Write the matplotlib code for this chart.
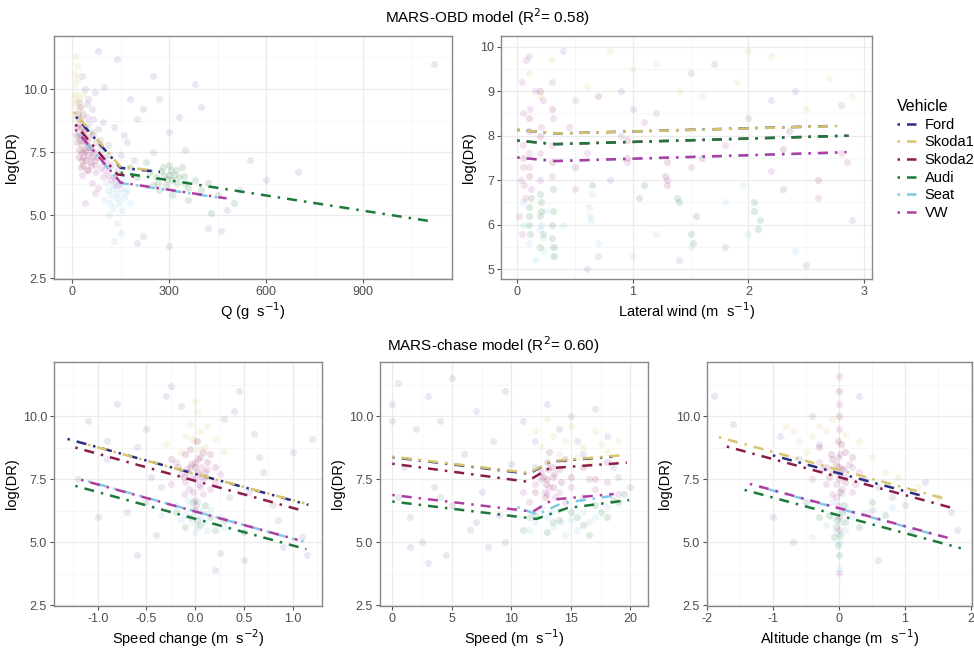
import matplotlib
matplotlib.use("Agg")
import matplotlib.pyplot as plt
from matplotlib.lines import Line2D

plt.rcParams["font.family"] = ["Liberation Sans", "DejaVu Sans"]

VEHICLES = ["Ford", "Skoda1", "Skoda2", "Audi", "Seat", "VW"]
COLORS = {
    "Ford": "#2b2c86",
    "Skoda1": "#d8c46c",
    "Skoda2": "#8a1c4c",
    "Audi": "#1b7a3a",
    "Seat": "#82c8e6",
    "VW": "#b03ea2",
}
CODE = {"F": "Ford", "Y": "Skoda1", "M": "Skoda2", "A": "Audi", "S": "Seat", "V": "VW"}

# ---- fitted MARS lines (x breakpoints, y values) per vehicle ----
Q_LINE_X = {
    "Ford": [12, 150, 272],
    "Skoda1": [5, 150, 250],
    "Skoda2": [10, 140, 200],
    "Audi": [150, 1117],
    "Seat": [20, 150, 470],
    "VW": [10, 150, 478],
}
Q_LINE_Y = {
    "Ford": [8.9, 6.88, 6.72],
    "Skoda1": [9.1, 6.92, 6.78],
    "Skoda2": [8.6, 6.62, 6.52],
    "Audi": [6.69, 4.75],
    "Seat": [8.2, 6.28, 5.67],
    "VW": [8.4, 6.3, 5.67],
}

WIND_LINE_X = {
    "Ford": [0, 0.35, 2.75],
    "Skoda1": [0, 0.35, 2.82],
    "Skoda2": [0, 0.33, 2.85],
    "Audi": [0, 0.33, 2.87],
    "Seat": [0, 0.33, 2.83],
    "VW": [0, 0.33, 2.85],
}
WIND_LINE_Y = {
    "Ford": [8.13, 8.05, 8.22],
    "Skoda1": [8.13, 8.05, 8.22],
    "Skoda2": [7.89, 7.81, 8.0],
    "Audi": [7.89, 7.81, 8.0],
    "Seat": [7.51, 7.43, 7.62],
    "VW": [7.51, 7.43, 7.63],
}

ACC_LINE_X = {
    "Ford": [-1.31, 1.16],
    "Skoda1": [-1.1, 1.12],
    "Skoda2": [-1.23, 1.11],
    "Audi": [-1.23, 1.14],
    "Seat": [-1.1, 1.11],
    "VW": [-1.17, 1.05],
}
ACC_LINE_Y = {
    "Ford": [9.1, 6.49],
    "Skoda1": [8.87, 6.55],
    "Skoda2": [8.76, 6.25],
    "Audi": [7.24, 4.73],
    "Seat": [7.42, 5.03],
    "VW": [7.48, 5.1],
}

SPEED_LINE_X = {
    "Ford": [0, 11.5, 13.3, 18.5],
    "Skoda1": [0, 11.5, 13.3, 19.7],
    "Skoda2": [0, 11.3, 13.2, 19.7],
    "Audi": [0, 12.1, 14.7, 19.9],
    "Seat": [10.5, 12.2, 14.2, 18.6],
    "VW": [0, 11.8, 13.5, 18.6],
}
SPEED_LINE_Y = {
    "Ford": [8.38, 7.72, 8.2, 8.4],
    "Skoda1": [8.4, 7.75, 8.22, 8.47],
    "Skoda2": [8.12, 7.41, 7.94, 8.16],
    "Audi": [6.62, 5.93, 6.36, 6.68],
    "Seat": [6.4, 6.1, 6.55, 6.85],
    "VW": [6.88, 6.22, 6.7, 6.92],
}

ALT_LINE_X = {
    "Ford": [-1.0, 1.3],
    "Skoda1": [-1.82, 1.67],
    "Skoda2": [-1.70, 1.77],
    "Audi": [-1.43, 1.85],
    "Seat": [-1.2, 1.65],
    "VW": [-1.35, 1.67],
}
ALT_LINE_Y = {
    "Ford": [8.45, 6.82],
    "Skoda1": [9.17, 6.69],
    "Skoda2": [8.8, 6.33],
    "Audi": [7.08, 4.77],
    "Seat": [7.2, 5.17],
    "VW": [7.32, 5.17],
}

# ---- scatter points: (vehicle code, x, y) ----
Q_PTS = [
    ("Y", 8, 10.6), ("Y", 10, 10.2), ("Y", 12, 9.8), ("Y", 15, 9.5), ("Y", 18, 9.2), ("Y", 10, 9.0),
    ("Y", 20, 8.8), ("Y", 25, 9.6), ("Y", 6, 9.4), ("Y", 30, 9.0), ("Y", 14, 10.9), ("Y", 22, 8.4),
    ("Y", 5, 8.8), ("Y", 9, 9.7), ("Y", 16, 10.4), ("Y", 28, 9.3), ("Y", 12, 11.3), ("Y", 35, 9.8),
    ("M", 15, 8.5), ("M", 20, 8.2), ("M", 25, 8.0), ("M", 30, 7.8), ("M", 35, 8.3), ("M", 40, 7.6),
    ("M", 45, 7.9), ("M", 50, 7.4), ("M", 20, 7.6), ("M", 30, 7.2), ("M", 55, 7.7), ("M", 60, 7.3),
    ("M", 25, 8.8), ("M", 40, 8.4), ("M", 70, 7.2), ("M", 15, 7.9), ("M", 35, 7.0), ("M", 50, 8.1),
    ("M", 18, 9.0), ("M", 28, 8.5), ("M", 38, 8.0), ("M", 48, 7.7), ("M", 22, 7.3), ("M", 32, 7.5),
    ("M", 42, 7.2), ("M", 58, 7.0), ("M", 65, 7.5), ("M", 12, 8.2), ("M", 26, 6.9), ("M", 45, 6.8),
    ("V", 20, 8.6), ("V", 30, 8.1), ("V", 40, 7.5), ("V", 60, 7.6), ("V", 70, 7.0), ("V", 80, 7.3),
    ("V", 90, 6.9), ("V", 100, 6.8), ("V", 110, 6.6), ("V", 120, 6.4), ("V", 50, 6.8), ("V", 30, 6.6),
    ("V", 60, 6.3), ("V", 80, 6.1), ("V", 25, 9.3), ("V", 45, 8.9), ("V", 130, 6.5), ("V", 40, 5.5),
    ("V", 70, 5.9), ("V", 55, 7.1), ("V", 75, 6.7), ("V", 95, 6.5), ("V", 85, 7.8), ("V", 65, 8.2),
    ("V", 35, 7.3), ("V", 105, 7.1), ("V", 140, 6.2), ("V", 50, 9.6),
    ("F", 20, 9.5), ("F", 35, 9.0), ("F", 50, 8.6), ("F", 60, 8.3), ("F", 75, 7.9), ("F", 90, 7.6),
    ("F", 100, 7.3), ("F", 120, 7.0), ("F", 140, 6.8), ("F", 80, 8.4), ("F", 110, 7.8), ("F", 150, 7.4),
    ("F", 40, 10.0), ("F", 60, 9.2), ("F", 130, 8.5), ("F", 170, 7.9), ("F", 200, 8.8), ("F", 180, 9.6),
    ("F", 100, 10.1), ("F", 250, 7.5), ("F", 220, 9.2), ("F", 65, 8.8), ("F", 85, 8.0), ("F", 95, 8.7),
    ("F", 115, 7.4), ("F", 45, 9.4), ("F", 70, 9.9), ("F", 160, 8.2), ("F", 30, 10.5), ("F", 190, 7.2),
    ("S", 110, 6.0), ("S", 120, 5.8), ("S", 130, 6.2), ("S", 140, 5.9), ("S", 150, 6.1), ("S", 160, 5.7),
    ("S", 145, 5.5), ("S", 125, 5.3), ("S", 135, 6.4), ("S", 155, 5.2), ("S", 170, 6.0), ("S", 115, 5.0),
    ("S", 140, 4.7), ("S", 100, 5.6), ("S", 180, 5.5), ("S", 150, 4.3), ("S", 130, 4.0), ("S", 160, 6.5),
    ("S", 125, 6.1), ("S", 138, 5.7), ("S", 148, 6.3), ("S", 118, 5.5), ("S", 165, 5.9), ("S", 105, 6.3),
    ("A", 240, 6.7), ("A", 260, 6.5), ("A", 280, 6.9), ("A", 300, 6.6), ("A", 310, 6.4), ("A", 320, 6.8),
    ("A", 290, 6.2), ("A", 330, 6.5), ("A", 350, 6.3), ("A", 270, 6.0), ("A", 340, 6.9), ("A", 360, 6.1),
    ("A", 380, 6.4), ("A", 300, 7.0), ("A", 250, 6.2), ("A", 400, 6.0), ("A", 310, 5.8), ("A", 420, 6.3),
    ("A", 230, 7.1), ("A", 360, 5.6), ("A", 450, 5.8), ("A", 200, 6.5), ("A", 285, 6.6), ("A", 305, 6.8),
    ("A", 295, 6.45), ("A", 325, 6.3), ("A", 275, 6.75), ("A", 315, 6.6), ("A", 345, 6.55), ("A", 265, 6.3),
    ("A", 500, 5.5), ("A", 180, 6.9), ("A", 430, 5.1),
    ("F", 300, 8.3), ("F", 400, 9.3), ("F", 350, 7.6), ("F", 520, 6.0), ("F", 600, 6.4), ("F", 700, 6.7),
    ("F", 480, 5.2), ("F", 420, 4.5), ("F", 220, 4.2), ("F", 300, 3.8), ("F", 1120, 11.0), ("F", 380, 10.2),
    ("F", 250, 10.5), ("F", 140, 11.2), ("F", 80, 11.5), ("F", 330, 8.9), ("F", 270, 9.6), ("F", 550, 7.2),
    ("F", 460, 4.4), ("F", 200, 3.9),
]

WIND_PTS = [
    ("V", 0.03, 7.0), ("V", 0.05, 7.8), ("V", 0.05, 8.5), ("V", 0.07, 6.6), ("V", 0.04, 9.2), ("V", 0.1, 7.3),
    ("V", 0.1, 8.1), ("V", 0.12, 6.8), ("V", 0.08, 9.7), ("V", 0.2, 7.6), ("V", 0.22, 8.8), ("V", 0.3, 7.1),
    ("V", 0.45, 8.2), ("V", 0.6, 7.6), ("V", 0.9, 8.0), ("V", 1.3, 7.0), ("V", 1.8, 7.8), ("V", 2.6, 6.6),
    ("V", 2.85, 7.4), ("V", 0.02, 6.2), ("V", 0.05, 7.3), ("V", 0.06, 6.9), ("V", 0.1, 7.6), ("V", 0.11, 8.6),
    ("V", 0.2, 7.0), ("V", 0.21, 8.2), ("V", 0.3, 7.8), ("V", 0.31, 8.4), ("V", 0.5, 6.8), ("V", 0.95, 7.4),
    ("V", 1.1, 8.3), ("V", 1.5, 7.3), ("V", 2.2, 7.2), ("V", 2.8, 7.6), ("V", 0.04, 5.8), ("V", 0.15, 9.0),
    ("S", 0.05, 6.0), ("S", 0.1, 5.6), ("S", 0.2, 5.9), ("S", 0.22, 5.4), ("S", 0.25, 6.3), ("S", 0.3, 5.5),
    ("S", 0.62, 6.4), ("S", 0.64, 6.1), ("S", 0.65, 6.7), ("S", 1.2, 5.8), ("S", 1.8, 6.5), ("S", 1.95, 6.9),
    ("S", 2.0, 5.8), ("S", 0.15, 5.2), ("S", 0.4, 6.0), ("S", 1.0, 5.3), ("S", 0.21, 6.0), ("S", 0.22, 5.7),
    ("S", 0.31, 5.3), ("S", 0.63, 6.2), ("S", 0.7, 5.6), ("S", 1.5, 5.5), ("S", 2.4, 5.4), ("S", 0.05, 6.5),
    ("A", 0.1, 6.4), ("A", 0.1, 6.0), ("A", 0.12, 6.6), ("A", 0.2, 6.2), ("A", 0.21, 6.5), ("A", 0.22, 5.8),
    ("A", 0.3, 6.0), ("A", 0.32, 5.5), ("A", 0.31, 6.8), ("A", 1.05, 6.6), ("A", 1.1, 6.9), ("A", 1.4, 6.5),
    ("A", 1.5, 5.8), ("A", 1.55, 6.2), ("A", 2.05, 6.3), ("A", 2.1, 6.1), ("A", 0.65, 6.9), ("A", 2.3, 6.8),
    ("A", 0.1, 6.2), ("A", 0.11, 5.8), ("A", 0.21, 6.3), ("A", 0.2, 6.7), ("A", 0.3, 5.7), ("A", 0.31, 6.3),
    ("A", 1.38, 6.6), ("A", 1.52, 5.6), ("A", 2.05, 6.5), ("A", 2.08, 5.9), ("A", 0.32, 5.3), ("A", 0.2, 5.5),
    ("M", 0.05, 7.5), ("M", 0.1, 8.4), ("M", 0.2, 8.0), ("M", 0.3, 8.6), ("M", 0.5, 7.3), ("M", 0.95, 7.9),
    ("M", 1.3, 6.9), ("M", 1.3, 7.4), ("M", 1.6, 7.5), ("M", 2.3, 7.7), ("M", 2.6, 7.0), ("M", 0.7, 8.9),
    ("M", 0.2, 9.0), ("M", 0.1, 7.1), ("M", 0.3, 7.4), ("M", 1.28, 7.1), ("M", 0.95, 7.5), ("M", 2.35, 8.1),
    ("Y", 0.1, 9.4), ("Y", 0.3, 9.7), ("Y", 0.6, 9.1), ("Y", 1.0, 9.5), ("Y", 1.4, 9.0), ("Y", 1.9, 9.2),
    ("Y", 2.2, 9.8), ("Y", 2.7, 9.3), ("Y", 2.5, 8.6), ("Y", 0.8, 9.9), ("Y", 1.6, 8.9), ("Y", 0.2, 8.9),
    ("Y", 1.2, 9.6), ("Y", 2.0, 9.9), ("Y", 2.9, 8.9),
    ("F", 0.1, 9.8), ("F", 0.3, 9.2), ("F", 0.5, 8.8), ("F", 0.9, 9.0), ("F", 1.2, 8.5), ("F", 1.5, 9.4),
    ("F", 2.0, 8.4), ("F", 2.4, 9.0), ("F", 2.8, 8.7), ("F", 0.7, 5.3), ("F", 1.8, 5.5), ("F", 2.5, 5.1),
    ("F", 0.4, 9.9), ("F", 1.0, 8.6), ("F", 1.7, 9.6), ("F", 2.2, 8.8), ("F", 0.6, 5.0), ("F", 1.4, 5.2),
    ("F", 2.9, 6.1), ("F", 0.8, 7.0),
]

ACC_PTS = [
    ("V", 0, 7.5), ("V", 0.02, 7.8), ("V", -0.05, 8.0), ("V", 0.05, 7.2), ("V", -0.02, 7.0), ("V", 0.1, 7.6),
    ("V", -0.1, 7.4), ("V", 0.03, 8.3), ("V", 0.08, 6.9), ("V", -0.08, 7.9), ("V", 0.15, 7.1), ("V", -0.15, 7.7),
    ("V", 0.2, 7.4), ("V", -0.2, 8.2), ("V", 0.0, 6.7), ("V", 0.04, 7.3), ("V", -0.03, 7.6), ("V", 0.06, 8.0),
    ("V", -0.06, 7.1), ("V", 0.12, 7.9), ("V", -0.12, 6.9), ("V", 0.01, 6.5), ("V", 0.25, 7.7), ("V", -0.25, 7.3),
    ("V", 0.07, 7.55),
    ("M", 0, 8.0), ("M", 0.05, 8.4), ("M", -0.05, 8.7), ("M", 0.1, 7.8), ("M", -0.1, 8.5), ("M", 0.02, 9.0),
    ("M", 0.12, 8.2), ("M", -0.12, 7.6), ("M", 0.2, 8.0), ("M", -0.25, 8.3), ("M", 0.0, 8.2), ("M", 0.04, 7.7),
    ("M", -0.04, 8.1), ("M", 0.08, 8.6), ("M", -0.08, 7.8), ("M", 0.15, 8.5), ("M", -0.18, 8.0),
    ("Y", 0, 9.0), ("Y", 0.05, 9.4), ("Y", -0.05, 9.7), ("Y", 0.1, 8.8), ("Y", 0.02, 10.2), ("Y", -0.1, 9.2),
    ("Y", 0.2, 9.1), ("Y", 0.3, 8.6), ("Y", -0.3, 8.9), ("Y", 0.0, 10.6), ("Y", 0.04, 8.7), ("Y", -0.03, 9.1),
    ("Y", 0.12, 9.6), ("Y", -0.15, 8.6),
    ("S", 0, 6.2), ("S", 0.05, 6.0), ("S", -0.05, 6.4), ("S", 0.1, 5.8), ("S", -0.1, 6.1), ("S", 0.02, 5.6),
    ("S", 0.15, 6.3), ("S", -0.15, 5.9), ("S", 0.25, 6.0), ("S", -0.2, 6.5), ("S", 0.0, 5.4), ("S", 0.3, 5.6),
    ("S", 0.03, 6.6), ("S", -0.03, 5.8), ("S", 0.07, 6.3), ("S", -0.07, 6.7), ("S", 0.12, 5.5), ("S", 0.4, 5.8),
    ("S", -0.35, 6.1),
    ("A", 0, 6.3), ("A", 0.05, 5.7), ("A", -0.05, 6.0), ("A", 0.1, 6.5), ("A", -0.1, 5.6), ("A", 0.2, 5.5),
    ("A", -0.2, 6.2), ("A", 0.3, 5.9), ("A", 0.02, 5.9), ("A", -0.02, 6.6), ("A", 0.15, 6.0), ("A", 0.5, 5.4),
    ("F", -1.1, 9.8), ("F", -0.9, 8.3), ("F", -0.7, 6.2), ("F", -0.5, 9.5), ("F", -0.4, 5.3), ("F", -0.6, 4.5),
    ("F", -0.3, 10.8), ("F", 0.4, 10.2), ("F", 0.6, 9.3), ("F", 0.5, 4.3), ("F", 0.8, 6.5), ("F", 1.0, 8.6),
    ("F", 1.1, 5.2), ("F", 1.2, 9.1), ("F", -1.2, 7.5), ("F", -0.8, 10.5), ("F", 0.7, 7.8), ("F", 0.9, 4.8),
    ("F", -0.25, 11.2), ("F", 0.45, 11.0), ("F", 1.15, 4.5), ("F", -1.0, 6.0), ("F", 0.2, 3.9), ("F", -0.35, 7.2),
    ("F", 0.35, 6.8), ("F", -0.6, 8.8), ("F", -0.45, 7.6), ("F", 0.55, 7.0), ("F", 0.65, 8.4), ("F", -0.9, 9.0),
    ("F", 0.3, 9.9), ("F", -0.15, 10.4), ("F", 0.25, 4.6), ("F", -0.5, 6.6), ("F", 0.85, 5.9),
]

SPEED_PTS = [
    ("F", 0, 10.5), ("F", 0, 9.8), ("F", 0.5, 11.3), ("F", 1, 8.0), ("F", 1.5, 6.0), ("F", 2, 9.5),
    ("F", 2.5, 5.0), ("F", 3, 10.8), ("F", 3.5, 7.2), ("F", 4, 9.8), ("F", 4.5, 4.5), ("F", 5, 11.5),
    ("F", 5, 6.5), ("F", 6, 8.5), ("F", 6.5, 5.5), ("F", 7, 10.2), ("F", 7.5, 7.0), ("F", 8, 4.8),
    ("F", 8.5, 9.0), ("F", 9, 6.1), ("F", 9.5, 11.0), ("F", 10, 8.1), ("F", 0.5, 6.8), ("F", 3, 4.2),
    ("F", 7, 5.8), ("F", 1.5, 4.8), ("F", 9.5, 5.0), ("F", 4, 6.8),
    ("F", 12, 9.0), ("F", 14, 9.5), ("F", 16, 8.5), ("F", 18, 9.2), ("F", 15, 10.0), ("F", 19, 7.6),
    ("F", 17, 10.3), ("F", 13, 10.5), ("F", 15.5, 9.0), ("F", 18.5, 8.0), ("F", 12, 8.0), ("F", 20, 7.2),
    ("F", 11, 9.8),
    ("Y", 12.5, 8.8), ("Y", 13.5, 9.2), ("Y", 14, 8.5), ("Y", 15, 9.6), ("Y", 16, 8.8), ("Y", 17, 9.4),
    ("Y", 18, 8.6), ("Y", 13, 9.9), ("Y", 19, 9.0), ("Y", 16.5, 8.2), ("Y", 14.5, 9.0), ("Y", 12, 9.4),
    ("Y", 15.5, 8.4), ("Y", 17.5, 8.9),
    ("M", 12.5, 7.8), ("M", 13, 7.5), ("M", 13, 8.2), ("M", 13.5, 7.2), ("M", 14, 7.9), ("M", 12, 7.0),
    ("M", 14.5, 8.3), ("M", 15, 7.6), ("M", 16, 8.0), ("M", 17, 7.5), ("M", 18, 8.2), ("M", 13.2, 8.6),
    ("M", 12.8, 6.8), ("M", 13.1, 7.9), ("M", 12.9, 7.3), ("M", 13.4, 8.0), ("M", 12.7, 7.6), ("M", 13.6, 7.7),
    ("M", 14.2, 7.4),
    ("V", 12, 7.3), ("V", 13, 6.9), ("V", 13.5, 7.6), ("V", 14, 7.0), ("V", 12.5, 7.5), ("V", 15, 7.2),
    ("V", 16, 6.8), ("V", 17, 7.1), ("V", 18, 7.4), ("V", 11, 7.0), ("V", 14.5, 6.6), ("V", 19, 6.9),
    ("V", 13.2, 7.2), ("V", 12.8, 7.0), ("V", 13.7, 6.8), ("V", 16.5, 7.5), ("V", 11.5, 6.6),
    ("S", 12, 5.8), ("S", 13, 6.0), ("S", 13.5, 5.6), ("S", 14, 6.3), ("S", 15, 5.9), ("S", 16, 6.2),
    ("S", 15.5, 5.5), ("S", 17, 6.0), ("S", 12.5, 6.4), ("S", 14.5, 5.3), ("S", 18, 6.4), ("S", 13.3, 6.2),
    ("S", 14.2, 5.8), ("S", 16.5, 5.8), ("S", 11.5, 5.5),
    ("A", 11, 5.5), ("A", 12, 6.1), ("A", 13, 5.4), ("A", 14, 5.9), ("A", 15, 6.2), ("A", 16, 5.7),
    ("A", 17, 6.5), ("A", 18, 6.0), ("A", 19, 6.6), ("A", 19.5, 6.9), ("A", 16.5, 5.3), ("A", 11.5, 6.0),
    ("A", 13.5, 5.8), ("A", 15.5, 6.0), ("A", 17.5, 6.2), ("A", 18.5, 6.7),
]

ALT_PTS = [
    ("V", 0, 11.6), ("M", 0, 11.0), ("V", 0, 10.5), ("M", 0, 10.0), ("V", 0, 9.5), ("M", -0.02, 9.0),
    ("V", 0.02, 8.5), ("M", 0, 8.0), ("V", 0, 7.5), ("M", 0.02, 7.0), ("V", -0.02, 6.5), ("M", 0, 6.0),
    ("V", 0, 5.5), ("S", 0, 5.0), ("A", 0, 4.5), ("S", 0, 4.0), ("V", 0, 3.8),
    ("V", -0.1, 7.8), ("V", -0.2, 7.3), ("V", 0.1, 7.6), ("V", -0.3, 8.2), ("V", 0.2, 7.0), ("V", -0.05, 6.8),
    ("V", 0.15, 8.1), ("V", -0.4, 7.5), ("V", 0.3, 7.8), ("V", -0.05, 7.3), ("V", 0.05, 7.1), ("V", -0.1, 6.9),
    ("V", 0.08, 7.9), ("V", -0.02, 8.4), ("V", 0.25, 7.3), ("V", -0.25, 7.9),
    ("M", -0.1, 8.3), ("M", 0.1, 8.6), ("M", -0.2, 8.0), ("M", 0.05, 7.9), ("M", -0.3, 8.8), ("M", 0.2, 8.4),
    ("M", -0.15, 7.6), ("M", 0.0, 7.7), ("M", -0.05, 8.1), ("M", 0.1, 7.4), ("M", -0.12, 8.5), ("M", 0.04, 8.9),
    ("Y", -0.4, 9.2), ("Y", -0.6, 9.0), ("Y", -0.2, 9.4), ("Y", -0.8, 9.6), ("Y", 0.3, 9.0), ("Y", 0.5, 8.4),
    ("Y", -0.5, 8.6), ("Y", 0.7, 7.8), ("Y", 0.9, 7.6), ("Y", 1.2, 7.2), ("Y", 1.5, 6.8), ("Y", -0.3, 9.6),
    ("Y", -0.1, 9.9), ("Y", 0.1, 9.3), ("Y", -0.7, 9.4),
    ("F", -0.3, 8.9), ("F", 0.2, 8.0), ("F", 0.4, 7.5), ("F", 0.6, 7.2), ("F", 0.8, 6.8), ("F", -0.6, 8.3),
    ("F", 1.0, 6.5), ("F", 0.5, 6.3), ("F", 1.3, 7.4), ("F", -0.9, 9.2), ("F", -1.6, 9.7), ("F", -1.9, 10.8),
    ("F", 1.7, 6.2), ("F", 1.8, 5.5), ("F", 0.3, 10.8), ("F", -0.4, 10.0), ("F", 0.6, 4.3), ("F", -1.0, 6.0),
    ("F", -0.7, 5.0), ("F", 1.1, 5.4),
    ("S", -0.1, 6.0), ("S", 0.1, 6.3), ("S", -0.2, 5.7), ("S", 0.2, 6.0), ("S", -0.3, 6.5), ("S", 0.4, 6.2),
    ("S", -0.05, 5.4), ("S", 0.6, 5.9), ("S", 0.8, 6.4), ("S", -0.4, 5.2), ("S", 0.02, 5.8), ("S", -0.02, 6.3),
    ("S", 0.1, 5.5), ("S", -0.1, 6.6), ("S", 0.05, 6.9),
    ("A", -0.05, 5.6), ("A", 0.05, 6.2), ("A", -0.15, 6.1), ("A", 0.1, 5.8), ("A", -0.3, 6.0), ("A", 0.3, 5.6),
    ("A", -0.02, 4.9), ("A", 0.5, 6.6), ("A", 0.7, 6.1), ("A", -0.5, 6.6), ("A", 0.02, 5.3), ("A", -0.03, 5.9),
    ("A", 0.08, 6.5), ("A", -0.08, 5.2),
]

# figure geometry in pixels: left, top, right, bottom
W, H = 974, 648
PANELS = [
    dict(box=(54, 36, 452, 279), xlim=(-56, 1175), ylim=(2.48, 12.1),
         xt=[0, 300, 600, 900], xtl=["0", "300", "600", "900"], xm=[150, 450, 750, 1050],
         yt=[2.5, 5, 7.5, 10], ytl=["2.5", "5.0", "7.5", "10.0"], ym=[3.75, 6.25, 8.75, 11.25],
         xlabel=r"Q (g  s$^{-1}$)", lx=Q_LINE_X, ly=Q_LINE_Y, pts=Q_PTS),
    dict(box=(501, 36, 872, 279), xlim=(-0.14, 3.07), ylim=(4.78, 10.24),
         xt=[0, 1, 2, 3], xtl=["0", "1", "2", "3"], xm=[0.5, 1.5, 2.5],
         yt=[5, 6, 7, 8, 9, 10], ytl=["5", "6", "7", "8", "9", "10"], ym=[5.5, 6.5, 7.5, 8.5, 9.5],
         xlabel=r"Lateral wind (m  s$^{-1}$)", lx=WIND_LINE_X, ly=WIND_LINE_Y, pts=WIND_PTS),
    dict(box=(54, 362, 322, 606), xlim=(-1.448, 1.30), ylim=(2.48, 12.15),
         xt=[-1, -0.5, 0, 0.5, 1], xtl=["-1.0", "-0.5", "0.0", "0.5", "1.0"],
         xm=[-1.25, -0.75, -0.25, 0.25, 0.75, 1.25],
         yt=[2.5, 5, 7.5, 10], ytl=["2.5", "5.0", "7.5", "10.0"], ym=[3.75, 6.25, 8.75, 11.25],
         xlabel=r"Speed change (m  s$^{-2}$)", lx=ACC_LINE_X, ly=ACC_LINE_Y, pts=ACC_PTS),
    dict(box=(380, 362, 648, 606), xlim=(-1.03, 21.48), ylim=(2.48, 12.15),
         xt=[0, 5, 10, 15, 20], xtl=["0", "5", "10", "15", "20"], xm=[2.5, 7.5, 12.5, 17.5],
         yt=[2.5, 5, 7.5, 10], ytl=["2.5", "5.0", "7.5", "10.0"], ym=[3.75, 6.25, 8.75, 11.25],
         xlabel=r"Speed (m  s$^{-1}$)", lx=SPEED_LINE_X, ly=SPEED_LINE_Y, pts=SPEED_PTS),
    dict(box=(707, 362, 972, 606), xlim=(-2.0, 2.02), ylim=(2.48, 12.15),
         xt=[-2, -1, 0, 1, 2], xtl=["-2", "-1", "0", "1", "2"], xm=[-1.5, -0.5, 0.5, 1.5],
         yt=[2.5, 5, 7.5, 10], ytl=["2.5", "5.0", "7.5", "10.0"], ym=[3.75, 6.25, 8.75, 11.25],
         xlabel=r"Altitude change (m  s$^{-1}$)", lx=ALT_LINE_X, ly=ALT_LINE_Y, pts=ALT_PTS),
]

# ggplot "dotdash": dot, gap, dash, gap
DASH = (0, (1.0, 2.8, 4.0, 2.8))
LW = 1.8

fig = plt.figure(figsize=(W / 100, H / 100), dpi=100)

for p in PANELS:
    l, t, r, b = p["box"]
    ax = fig.add_axes([l / W, 1 - b / H, (r - l) / W, (b - t) / H])
    ax.set_xlim(*p["xlim"])
    ax.set_ylim(*p["ylim"])
    ax.set_xticks(p["xt"])
    ax.set_xticklabels(p["xtl"])
    ax.set_xticks(p["xm"], minor=True)
    ax.set_yticks(p["yt"])
    ax.set_yticklabels(p["ytl"])
    ax.set_yticks(p["ym"], minor=True)
    ax.grid(which="major", color="#ebebeb", lw=0.9)
    ax.grid(which="minor", color="#f3f3f3", lw=0.5)
    ax.set_axisbelow(True)
    ax.tick_params(which="major", length=3, color="#555555", labelsize=9,
                   labelcolor="#4d4d4d", pad=2)
    ax.tick_params(which="minor", length=0)
    for s in ax.spines.values():
        s.set_color("#888888")
        s.set_linewidth(1.0)

    for v in VEHICLES:
        sel = [(x, y) for c, x, y in p["pts"] if CODE[c] == v]
        if sel:
            xs, ys = zip(*sel)
            a = 0.10 if v == "Ford" else 0.15
            ax.scatter(xs, ys, s=26, color=COLORS[v], alpha=a, lw=0, zorder=2)

    for v in VEHICLES:
        ax.plot(p["lx"][v], p["ly"][v], color=COLORS[v], lw=LW, linestyle=DASH,
                dash_capstyle="butt", zorder=3)

    ax.set_ylabel("log(DR)", fontsize=10.5, labelpad=3)
    ax.set_xlabel(p["xlabel"], fontsize=10.5, labelpad=2)

fig.text(487 / W, 1 - 17 / H, r"MARS-OBD model (R$^{2}$= 0.58)", ha="center", va="center", fontsize=11)
fig.text(493 / W, 1 - 345 / H, r"MARS-chase model (R$^{2}$= 0.60)", ha="center", va="center", fontsize=11)

handles = [Line2D([0], [0], color=COLORS[v], lw=LW, linestyle=DASH) for v in VEHICLES]
leg = fig.legend(handles, VEHICLES, title="Vehicle", loc="upper left",
                 bbox_to_anchor=(884 / W, 1 - 86 / H), frameon=False, fontsize=10.5,
                 title_fontsize=11.5, handlelength=1.3, handletextpad=0.6, labelspacing=0.25)
leg._legend_box.align = "left"

fig.savefig("out.png", dpi=100)
